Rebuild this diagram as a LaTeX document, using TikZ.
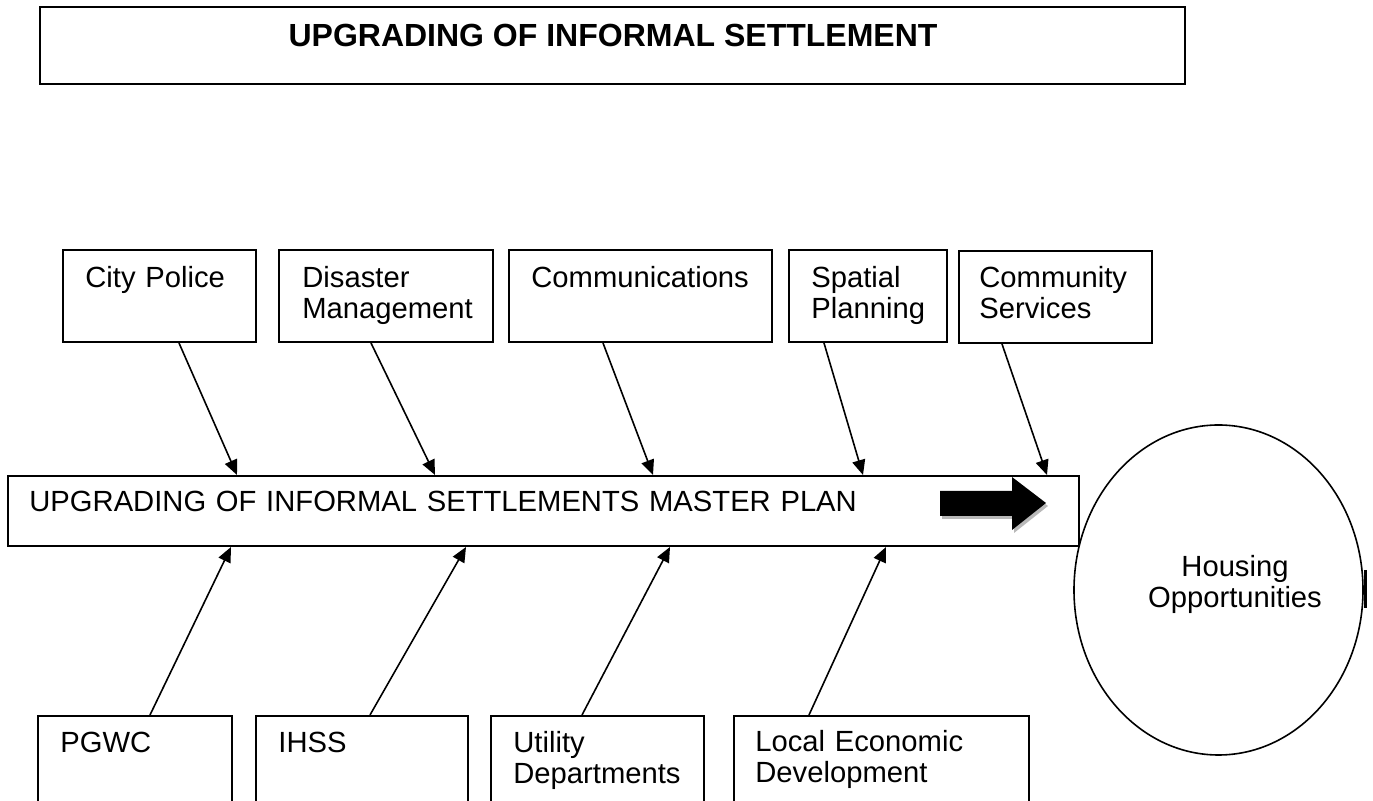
\documentclass[tikz,border=0pt]{standalone}
\usepackage{fontspec}
\setmainfont{Liberation Sans}
\usetikzlibrary{arrows.meta,fit,shapes.geometric}
\begin{document}
\begin{tikzpicture}[x=0.5pt,y=-0.5pt,
  box/.style={draw, line width=1pt, inner sep=0pt, rectangle},
  lbl/.style={inner sep=0pt, anchor=base west, align=left, text width=140pt,
              font=\fontsize{14.6}{15.4}\selectfont},
  conn/.style={line width=0.8pt, -{Triangle[length=7.5pt,width=6.5pt]}},
]
\useasboundingbox (0,0) rectangle (1373,801);
\clip (0,0) rectangle (1373,801);

% title
\node[box, fit={(40,7)(1185,84)}] (title) {};
\node[inner sep=0pt, anchor=base, font=\bfseries\fontsize{16}{19}\selectfont]
  (titletext) at (613,47) {UPGRADING OF INFORMAL SETTLEMENT};

% contributing departments, upper row
\node[box, fit={(63,250)(256,342)}] (cp) {};
\node[lbl] (cpt) at (85,288) {City Police};
\node[box, fit={(279,250)(493,342)}] (dm) {};
\node[lbl] (dmt) at (302,288) {Disaster\\Management};
\node[box, fit={(509,250)(772,342)}] (com) {};
\node[lbl] (comt) at (531,288) {Communications};
\node[box, fit={(789,250)(947,342)}] (sp) {};
\node[lbl] (spt) at (811,288) {Spatial\\Planning};
\node[box, fit={(959,251)(1152,343)}] (cs) {};
\node[lbl] (cst) at (979,288) {Community\\Services};

% master plan bar
\node[box, fit={(8,476)(1079,546)}] (bar) {};
\node[lbl, text width=450pt] (bart) at (29,512)
  {UPGRADING OF INFORMAL SETTLEMENTS MASTER PLAN};

% block arrow with its shadow
\fill[gray!55] (942,494) -- (1014,494) -- (1014,480) -- (1048,506)
  -- (1014,533) -- (1014,519) -- (942,519) -- cycle;
\fill[black] (940,491) -- (1012,491) -- (1012,477) -- (1046,503)
  -- (1012,530) -- (1012,516) -- (940,516) -- cycle;

% contributing departments, lower row
\node[box, fit={(38,716)(232,830)}] (pg) {};
\node[lbl] (pgt) at (60,753) {PGWC};
\node[box, fit={(256,716)(468,830)}] (ih) {};
\node[lbl] (iht) at (278,753) {IHSS};
\node[box, fit={(491,716)(704,830)}] (ud) {};
\node[lbl] (udt) at (513,753) {Utility\\Departments};
\node[box, fit={(734,716)(1029,830)}] (led) {};
\node[lbl] (ledt) at (755,752) {Local Economic\\Development};

% outcome
\node[draw, ellipse, line width=0.8pt, inner sep=0pt,
      minimum width=144.5pt, minimum height=165pt] (ho) at (1218.5,590) {};
\node[lbl, anchor=base, align=center, text width=100pt] (hot) at (1235,577)
  {Housing\\Opportunities};
\draw[line width=1.5pt] (1365,570) -- (1365,608);

% connectors into the bar
\draw[conn] (179,0 |- cp.south)  -- (237,0 |- bar.north);
\draw[conn] (371,0 |- dm.south)  -- (435,0 |- bar.north);
\draw[conn] (603,0 |- com.south) -- (653,0 |- bar.north);
\draw[conn] (824,0 |- sp.south)  -- (863,0 |- bar.north);
\draw[conn] (1002,0 |- cs.south) -- (1047,0 |- bar.north);

\draw[conn] (150,0 |- pg.north)  -- (231,0 |- bar.south);
\draw[conn] (370,0 |- ih.north)  -- (466,0 |- bar.south);
\draw[conn] (582,0 |- ud.north)  -- (670,0 |- bar.south);
\draw[conn] (809,0 |- led.north) -- (886,0 |- bar.south);
\end{tikzpicture}
\end{document}
